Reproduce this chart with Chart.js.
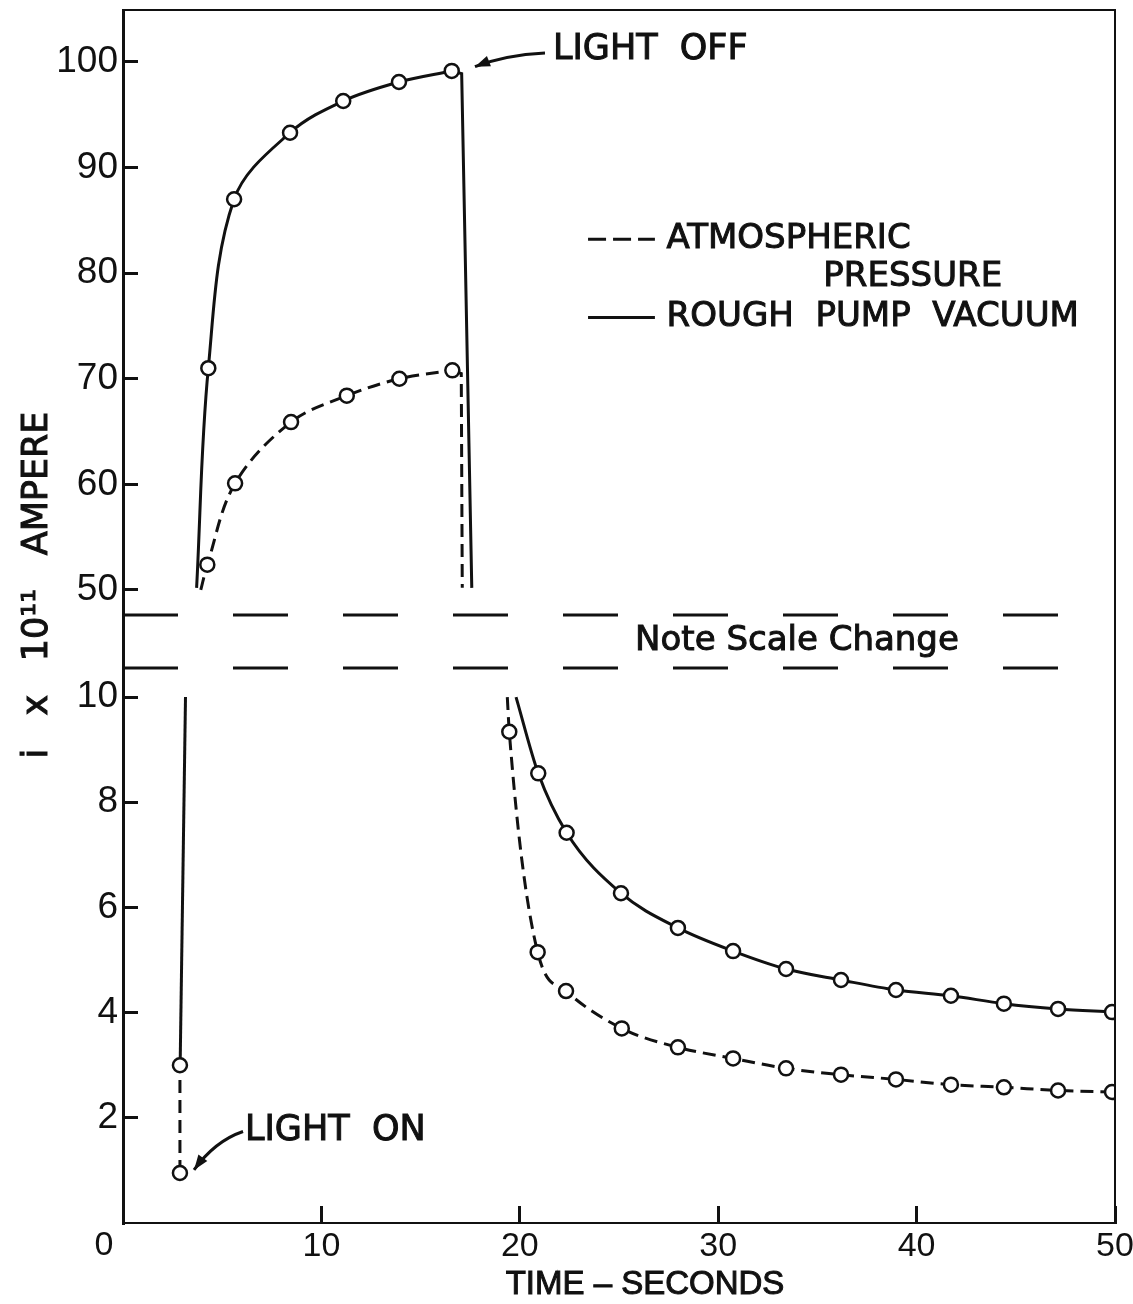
<!DOCTYPE html>
<html>
<head>
<meta charset="utf-8">
<script src="https://cdn.jsdelivr.net/npm/chart.js@4.4.0/dist/chart.umd.min.js"></script>
<style>
  html, body { margin: 0; padding: 0; background: #fff; }
  #wrap { width: 1133px; height: 1304px; }
</style>
</head>
<body>
<div id="wrap"><canvas id="graph"></canvas></div>
<script>
// tick values
const timeTicks = [0, 10, 20, 30, 40, 50];
const upperTicks = [50, 60, 70, 80, 90, 100];
const lowerTicks = [2, 4, 6, 8, 10];

// upper scale (i x 10^11 A) - first point of each rise is where the curve leaves the break
const vacRiseT = [3.71, 4.30, 5.60, 8.42, 11.10, 13.91, 16.57];
const vacRiseI = [50.2, 71.0, 87.0, 93.3, 96.3, 98.1, 99.15];
const vacOffT = [16.57, 17.07, 17.58];
const vacOffI = [99.15, 98.9, 50.2];

const atmRiseT = [3.92, 4.25, 5.65, 8.47, 11.28, 13.93, 16.60];
const atmRiseI = [50.0, 52.4, 60.1, 65.9, 68.4, 70.0, 70.8];
const atmOffT = [16.60, 17.05, 17.10];
const atmOffI = [70.8, 70.5, 50.2];

// lower scale
const atmOnT = [2.87, 2.87];
const atmOnI = [0.95, 3.0];
const vacOnT = [2.88, 3.15];
const vacOnI = [3.0, 10.0];

const vacDecayT = [19.81, 20.93, 22.36, 25.10, 27.97, 30.75, 33.42, 36.19, 38.96, 41.73, 44.40, 47.13, 49.85];
const vacDecayI = [10.0, 8.55, 7.42, 6.27, 5.61, 5.17, 4.83, 4.62, 4.43, 4.32, 4.17, 4.07, 4.01];
const atmDecayT = [19.37, 19.47, 20.90, 22.33, 25.14, 27.97, 30.75, 33.42, 36.19, 38.96, 41.73, 44.40, 47.13, 49.85];
const atmDecayI = [10.0, 9.34, 5.15, 4.41, 3.70, 3.34, 3.13, 2.94, 2.82, 2.73, 2.63, 2.58, 2.52, 2.49];

const ink = '#111';
const dash = [13, 7];
const sans = '"Liberation Sans", Arial, sans-serif';
const yFont = { family: sans, size: 37 };
const xFont = { family: sans, size: 34 };
const wordFont = '35px "DejaVu Sans", sans-serif';
const keyFont = '34px "DejaVu Sans", sans-serif';

const pts = (ts, is) => ts.map((t, k) => ({ x: t, y: is[k] }));
const skipFirst = ctx => (ctx.dataIndex === 0 ? 0 : 7);

function curve(label, ts, is, axis, dashed, extra) {
  return Object.assign({
    label: label,
    data: pts(ts, is),
    yAxisID: axis,
    borderColor: ink,
    borderWidth: 3,
    borderDash: dashed ? dash : [],
    pointStyle: 'circle',
    pointBackgroundColor: '#fff',
    pointBorderColor: ink,
    pointBorderWidth: 2.5,
    fill: false
  }, extra);
}

function arrow(ctx, p0, c, p1) {
  ctx.beginPath();
  ctx.moveTo(p0[0], p0[1]);
  ctx.quadraticCurveTo(c[0], c[1], p1[0], p1[1]);
  ctx.stroke();
  const ang = Math.atan2(p1[1] - c[1], p1[0] - c[0]);
  const L = 15, W = 5.5;
  ctx.beginPath();
  ctx.moveTo(p1[0], p1[1]);
  ctx.lineTo(p1[0] - L * Math.cos(ang) + W * Math.sin(ang), p1[1] - L * Math.sin(ang) - W * Math.cos(ang));
  ctx.lineTo(p1[0] - L * Math.cos(ang) - W * Math.sin(ang), p1[1] - L * Math.sin(ang) + W * Math.cos(ang));
  ctx.closePath();
  ctx.fill();
}

// heavier lettering like the stencil text of the original
function label(ctx, text, x, y) {
  ctx.fillText(text, x, y);
  ctx.strokeText(text, x, y);
}

const annotate = {
  id: 'annotate',
  afterDraw(chart) {
    const { ctx, chartArea: a, scales: { x, yTop, yBot } } = chart;
    const px = t => x.getPixelForValue(t);
    const up = v => yTop.getPixelForValue(v);
    const lo = v => yBot.getPixelForValue(v);
    ctx.save();
    ctx.strokeStyle = ink;
    ctx.fillStyle = ink;

    // top and right frame
    ctx.lineWidth = 2;
    ctx.beginPath();
    ctx.moveTo(a.left, a.top);
    ctx.lineTo(a.right, a.top);
    ctx.lineTo(a.right, a.bottom);
    ctx.stroke();

    // scale break
    const yHi = yTop.bottom, yLo = lo(10.55);
    ctx.lineWidth = 3;
    ctx.setLineDash([55, 55]);
    [yHi, yLo].forEach(yy => {
      ctx.beginPath();
      ctx.moveTo(a.left, yy);
      ctx.lineTo(px(47.33), yy);
      ctx.stroke();
    });
    ctx.setLineDash([]);

    // legend
    ctx.setLineDash([18, 7]);
    ctx.beginPath();
    ctx.moveTo(px(23.44), up(83.2));
    ctx.lineTo(px(26.81), up(83.2));
    ctx.stroke();
    ctx.setLineDash([]);
    ctx.beginPath();
    ctx.moveTo(px(23.44), up(75.8));
    ctx.lineTo(px(26.81), up(75.8));
    ctx.stroke();

    // light off / light on arrows
    arrow(ctx, [px(21.27), up(100.85)], [px(19.25), up(100.66)], [px(17.74), up(99.55)]);
    arrow(ctx, [px(6.05), lo(1.74)], [px(4.64), lo(1.56)], [px(3.58), lo(1.01)]);

    ctx.lineWidth = 1;
    ctx.textBaseline = 'middle';
    ctx.textAlign = 'center';
    ctx.font = '34px "DejaVu Sans", sans-serif';
    label(ctx, 'Note Scale Change', px(33.97), (yHi + yLo) / 2);

    ctx.textAlign = 'left';
    ctx.font = keyFont;
    label(ctx, 'ATMOSPHERIC', px(27.4), up(83.2));
    label(ctx, 'PRESSURE', px(35.3), up(79.6));
    label(ctx, 'ROUGH  PUMP  VACUUM', px(27.4), up(75.8));

    ctx.font = wordFont;
    label(ctx, 'LIGHT  OFF', px(21.67), up(101.14));
    label(ctx, 'LIGHT  ON', px(6.15), lo(1.76));

    // origin label, axis titles
    ctx.font = xFont.size + 'px ' + sans;
    ctx.textAlign = 'center';
    ctx.fillText('0', a.left - 19, 1246);

    ctx.font = '33px ' + sans;
    label(ctx, 'TIME \u2013 SECONDS', 645, 1285);

    ctx.translate(38, 585);
    ctx.rotate(-Math.PI / 2);
    ctx.font = wordFont;
    label(ctx, 'i   x   10\u00B9\u00B9   AMPERE', 0, 0);
    ctx.restore();
  }
};

const axisGrid = len => ({ drawOnChartArea: false, tickLength: len, color: ink, lineWidth: 3 });
const fixTicks = list => scale => { scale.ticks = list.map(v => ({ value: v })); };
const noPad = s => { s.paddingTop = 0; s.paddingBottom = 0; s.paddingLeft = 0; s.paddingRight = 0; };

new Chart(document.getElementById('graph'), {
  type: 'line',
  data: {
    datasets: [
      curve('ATMOSPHERIC PRESSURE', atmRiseT, atmRiseI, 'yTop', true, { pointRadius: skipFirst, tension: 0.35 }),
      curve('ROUGH PUMP VACUUM', vacRiseT, vacRiseI, 'yTop', false, { pointRadius: skipFirst, tension: 0.35 }),
      curve('ATMOSPHERIC PRESSURE', atmDecayT, atmDecayI, 'yBot', true, { pointRadius: skipFirst, cubicInterpolationMode: 'monotone' }),
      curve('ROUGH PUMP VACUUM', vacDecayT, vacDecayI, 'yBot', false, { pointRadius: skipFirst, cubicInterpolationMode: 'monotone' }),
      curve('ATMOSPHERIC PRESSURE', atmOnT, atmOnI, 'yBot', true, { pointRadius: 7, tension: 0 }),
      curve('ATMOSPHERIC PRESSURE', atmOffT, atmOffI, 'yTop', true, { pointRadius: 0, tension: 0 }),
      curve('ROUGH PUMP VACUUM', vacOffT, vacOffI, 'yTop', false, { pointRadius: 0, tension: 0 }),
      curve('ROUGH PUMP VACUUM', vacOnT, vacOnI, 'yBot', false, { pointRadius: 0, tension: 0 })
    ]
  },
  options: {
    responsive: true,
    maintainAspectRatio: false,
    animation: false,
    events: [],
    layout: { padding: { top: 10, right: 18, left: 0, bottom: 0 } },
    plugins: { legend: { display: false }, tooltip: { enabled: false } },
    scales: {
      x: {
        type: 'linear', min: 0, max: 50,
        afterBuildTicks: fixTicks(timeTicks),
        afterFit: s => { s.height = 81; noPad(s); },
        ticks: { font: xFont, color: ink, padding: 20, maxRotation: 0, autoSkip: false,
                 callback: v => (v === 0 ? '' : v) },
        grid: axisGrid(-17),
        border: { color: ink, width: 2 }
      },
      yBot: {
        type: 'linear', position: 'left', stack: 'amps', stackWeight: 608,
        min: 0, max: 11.56,
        afterBuildTicks: fixTicks(lowerTicks),
        afterFit: s => { s.width = 123; noPad(s); },
        ticks: { font: yFont, color: ink, padding: 20 },
        grid: axisGrid(-15),
        border: { color: ink, width: 3 }
      },
      yTop: {
        type: 'linear', position: 'left', stack: 'amps', stackWeight: 605,
        min: 47.63, max: 104.92,
        afterBuildTicks: fixTicks(upperTicks),
        afterFit: s => { s.width = 123; noPad(s); },
        ticks: { font: yFont, color: ink, padding: 20 },
        grid: axisGrid(-15),
        border: { color: ink, width: 3 }
      }
    }
  },
  plugins: [annotate]
});
</script>
</body>
</html>
